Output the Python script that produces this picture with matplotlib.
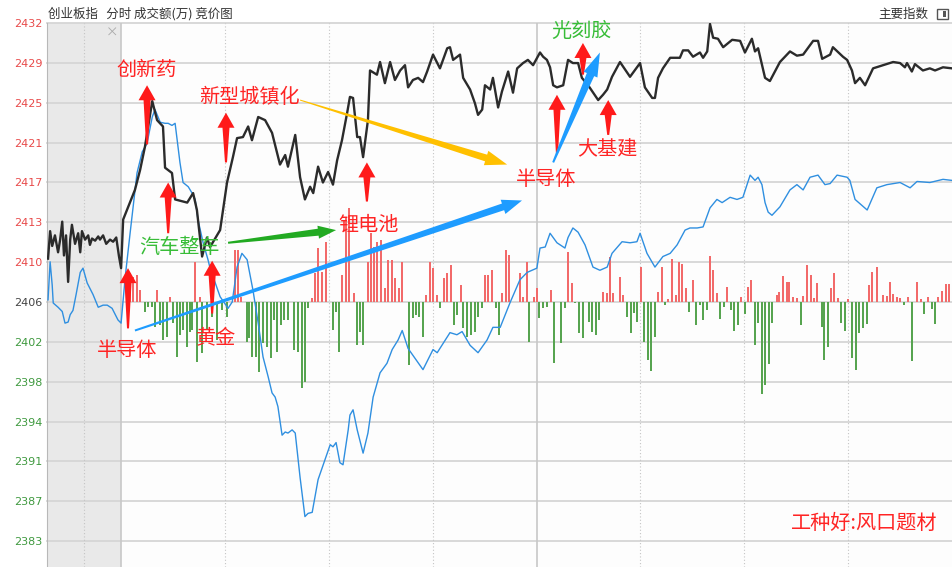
import numpy as np
import matplotlib
matplotlib.use("Agg")
import matplotlib.pyplot as plt
from matplotlib.patches import Polygon, Rectangle
from matplotlib.transforms import IdentityTransform

plt.rcParams["font.family"] = ["Noto Sans CJK SC", "DejaVu Sans"]

# price axis: gridlines every STEP points around the previous close
BASE = 2405.9
STEP = 3.77
tick_steps = list(range(-6, 8))
tick_labels = ["2383", "2387", "2391", "2394", "2398", "2402", "2406",
               "2410", "2413", "2417", "2421", "2425", "2429", "2432"]

# minutes from 9:30 (negative = call auction)
index_t = [-21.1, -20.5, -19.9, -19.1, -18.2, -17.6, -17.0, -16.5, -15.9, -15.3,
           -14.7, -14.2, -13.3, -12.4, -11.8, -11.3, -10.4, -9.5, -9.0, -8.4,
           -7.5, -6.6, -6.1, -5.2, -4.3, -3.2, -2.3, -1.4, -0.6, 0.0,
           0.6, 4.0, 5.5, 6.9, 9.0, 10.4, 12.1, 12.7, 14.7, 15.6,
           19.1, 20.8, 21.9, 23.4, 24.8, 25.7, 28.6, 30.6, 32.3, 33.5,
           35.2, 36.7, 37.8, 39.6, 41.6, 43.6, 45.9, 47.4, 48.2, 50.3,
           51.7, 53.1, 54.6, 55.5, 56.9, 58.3, 59.8, 61.2, 62.4, 63.8,
           65.3, 66.1, 67.0, 68.2, 69.0, 69.9, 71.3, 71.9, 73.9, 74.8,
           76.2, 77.7, 79.1, 80.6, 82.0, 82.9, 84.3, 85.8, 87.2, 88.4,
           90.1, 92.1, 94.2, 95.0, 95.9, 97.9, 98.8, 100.8, 102.2, 103.1,
           104.3, 105.1, 106.6, 107.4, 108.9, 110.0, 111.8, 113.2, 114.4, 116.1,
           117.5, 119.0, 121.0, 121.9, 123.0, 123.9, 124.8, 125.9, 127.7, 129.1,
           130.5, 132.0, 133.1, 134.9, 137.8, 139.2, 140.4, 141.8, 144.1, 147.0,
           149.9, 151.3, 153.4, 154.2, 155.1, 156.5, 158.6, 161.4, 162.3, 163.8,
           165.2, 167.2, 168.1, 169.3, 170.1, 171.0, 172.4, 173.9, 176.5, 178.8,
           180.2, 182.2, 183.1, 184.0, 186.0, 187.4, 190.3, 193.2, 195.2, 197.0,
           199.9, 201.3, 202.5, 204.8, 205.6, 208.5, 209.7, 211.1, 212.0, 213.4,
           214.9, 217.2, 220.1, 223.0, 225.0, 226.4, 227.0, 228.4, 229.3, 231.6,
           233.6, 235.1, 237.4, 240.0]
index_p = [2410.0, 2412.6, 2411.2, 2412.2, 2410.6, 2411.8, 2413.5, 2410.3, 2412.2, 2407.8,
           2411.8, 2413.2, 2411.4, 2412.4, 2410.6, 2412.6, 2411.8, 2412.2, 2411.3, 2411.9,
           2411.7, 2412.1, 2411.8, 2412.2, 2411.4, 2411.8, 2411.6, 2412.0, 2410.2, 2409.1,
           2413.7, 2416.5, 2418.4, 2420.6, 2424.9, 2423.1, 2422.5, 2418.6, 2418.1, 2415.6,
           2415.3, 2416.2, 2414.6, 2410.2, 2412.0, 2411.1, 2412.7, 2417.2, 2419.6, 2421.4,
           2421.5, 2422.5, 2421.2, 2423.4, 2423.1, 2421.9, 2418.9, 2419.8, 2418.7, 2421.7,
           2417.7, 2415.6, 2416.8, 2416.2, 2418.7, 2417.2, 2418.2, 2417.0, 2419.3, 2421.2,
           2423.8, 2425.3, 2425.2, 2421.5, 2421.5, 2419.6, 2423.1, 2427.8, 2427.4, 2428.6,
           2426.6, 2428.6, 2426.9, 2427.8, 2428.3, 2426.2, 2426.9, 2427.1, 2426.7, 2427.7,
           2429.3, 2428.0, 2429.9, 2430.0, 2428.8, 2429.3, 2427.1, 2426.0, 2424.7, 2423.6,
           2424.1, 2426.4, 2426.0, 2427.1, 2424.3, 2425.8, 2427.7, 2425.7, 2428.0, 2428.5,
           2428.8, 2428.3, 2429.5, 2429.1, 2428.8, 2428.1, 2426.4, 2426.2, 2426.4, 2428.8,
           2428.5, 2428.5, 2427.1, 2426.4, 2425.0, 2425.5, 2426.0, 2427.2, 2428.6, 2427.2,
           2428.5, 2426.2, 2425.2, 2425.2, 2427.1, 2428.0, 2429.0, 2429.0, 2429.7, 2429.7,
           2429.1, 2429.5, 2429.0, 2429.6, 2432.2, 2430.9, 2430.8, 2430.0, 2430.7, 2430.6,
           2429.5, 2430.8, 2429.6, 2429.9, 2427.1, 2426.8, 2428.6, 2429.6, 2429.2, 2429.3,
           2430.6, 2430.6, 2428.9, 2429.3, 2430.0, 2429.1, 2428.8, 2427.8, 2426.6, 2427.1,
           2426.4, 2428.0, 2428.3, 2428.6, 2428.5, 2428.1, 2428.5, 2427.7, 2428.4, 2427.8,
           2428.0, 2427.8, 2428.1, 2428.0]

avg_t = [-21.1, -20.5, -19.9, -19.6, -18.2, -17.0, -16.2, -15.3, -14.7, -13.9,
         -13.0, -11.8, -11.0, -9.8, -8.1, -6.6, -5.2, -4.0, -2.6, -0.9, 0.0,
         1.2, 2.6, 4.6, 6.1, 7.5, 9.0, 9.8, 11.3, 12.7, 13.6,
         14.7, 15.6, 17.0, 17.9, 19.4, 20.5, 21.4, 22.2, 23.7, 25.1,
         25.7, 28.6, 30.9, 32.1, 33.5, 34.9, 36.4, 38.1, 39.6, 41.0,
         42.5, 43.6, 44.5, 45.3, 46.5, 47.4, 48.2, 49.4, 50.3, 51.7,
         53.1, 54.0, 55.2, 56.9, 58.9, 60.4, 61.2, 62.1, 63.2, 64.1,
         65.6, 66.1, 67.0, 68.2, 69.9, 71.3, 72.8, 74.8, 76.8, 78.3,
         80.0, 81.2, 82.9, 87.2, 90.1, 91.3, 95.0, 97.0, 98.5, 100.8,
         103.1, 105.7, 107.4, 109.5, 112.3, 115.2, 117.3, 120.1, 121.0, 122.5,
         123.9, 125.9, 128.2, 129.1, 130.5, 132.0, 134.0, 136.3, 138.3, 140.4,
         141.8, 144.7, 147.0, 149.0, 149.9, 151.9, 154.2, 156.5, 158.6, 160.6,
         162.9, 164.3, 166.4, 168.1, 170.1, 172.1, 173.6, 175.9, 177.9, 179.6,
         181.7, 183.1, 184.0, 185.1, 186.0, 186.9, 188.0, 190.3, 193.2, 195.2,
         197.0, 199.0, 201.3, 203.3, 204.8, 206.8, 209.7, 210.5, 212.0, 215.5,
         218.3, 221.2, 225.0, 227.9, 229.9, 233.6, 237.4, 240.0]
avg_p = [2406.1, 2409.7, 2407.5, 2405.8, 2405.4, 2405.0, 2403.9, 2404.0, 2404.7, 2405.1,
         2406.6, 2408.7, 2409.1, 2407.7, 2406.6, 2405.4, 2405.6, 2405.6, 2405.3, 2404.2, 2403.9,
         2408.3, 2412.4, 2418.1, 2420.1, 2420.9, 2423.4, 2424.1, 2422.9, 2422.8, 2422.8,
         2422.6, 2422.8, 2419.1, 2417.2, 2416.8, 2416.2, 2415.6, 2413.7, 2411.5, 2409.9,
         2409.1, 2406.4, 2405.3, 2405.9, 2409.2, 2410.5, 2409.9, 2407.0, 2403.9, 2400.7,
         2398.8, 2397.3, 2396.9, 2396.0, 2393.3, 2393.6, 2393.5, 2393.8, 2393.5, 2389.3,
         2385.6, 2385.9, 2386.0, 2389.1, 2391.0, 2392.4, 2392.2, 2392.6, 2390.7, 2390.5,
         2393.8, 2395.2, 2395.7, 2393.8, 2391.6, 2393.5, 2396.9, 2399.2, 2400.1, 2401.4,
         2402.3, 2403.2, 2401.5, 2399.5, 2401.4, 2401.1, 2403.0, 2402.8, 2403.1, 2401.8,
         2401.1, 2402.3, 2403.5, 2403.5, 2405.8, 2408.0, 2408.7, 2409.1, 2411.0, 2411.1,
         2412.4, 2411.5, 2411.0, 2412.0, 2412.9, 2412.5, 2411.3, 2409.2, 2408.9, 2409.2,
         2410.5, 2411.6, 2411.5, 2411.6, 2412.4, 2410.5, 2409.2, 2410.2, 2410.5, 2411.3,
         2412.7, 2412.9, 2412.9, 2413.0, 2414.8, 2415.6, 2415.3, 2415.8, 2415.6, 2415.8,
         2417.9, 2417.4, 2417.7, 2417.0, 2415.3, 2414.4, 2414.1, 2414.9, 2416.5, 2417.0,
         2416.5, 2417.7, 2417.9, 2417.0, 2417.1, 2417.9, 2417.7, 2417.4, 2415.6, 2414.6,
         2416.7, 2417.0, 2417.2, 2416.7, 2417.3, 2417.2, 2417.5, 2417.4]

# turnover per minute (万), positive = up tick, negative = down tick
vol_t = [2.6, 3.5, 4.6, 5.5, 10.4, 14.2, 21.4, 22.8, 32.9, 33.8, 34.7,
         55.2, 56.0, 56.9, 58.1, 59.2, 63.8, 65.0, 65.8, 67.3, 71.3, 72.2, 73.1,
         73.9, 75.1, 76.2, 77.1, 78.3, 79.1, 80.3, 81.2, 88.1, 89.2, 90.1, 91.3,
         93.3, 94.2, 95.3, 98.2, 105.1, 106.0, 107.1, 110.0, 111.2, 112.1, 115.2,
         116.1, 117.3, 119.3, 120.0, 124.2, 129.1, 130.3, 139.2, 140.4, 141.2,
         142.1, 144.1, 145.0, 150.2, 155.1, 156.2, 158.0, 159.1, 160.3, 161.2,
         162.0, 163.2, 165.2, 170.1, 171.0, 172.1, 175.0, 179.1, 181.1, 182.0,
         189.5, 190.0, 191.2, 192.3, 192.9, 194.1, 195.2, 197.0, 198.1, 199.3,
         200.1, 201.0, 205.1, 205.9, 207.1, 210.0, 216.0, 216.9, 218.3, 220.1,
         221.2, 222.1, 222.9, 224.1, 225.0, 227.3, 229.9, 231.0, 233.1, 236.0,
         237.1, 238.3, 239.1,
         6.9, 7.8, 9.0, 9.8, 11.3, 12.1, 13.3, 15.0, 16.2, 17.0, 17.9, 19.1,
         19.9, 20.5, 21.9, 23.4, 24.8, 26.3, 27.7, 29.2, 30.6, 36.4, 37.0, 37.8,
         39.0, 39.9, 41.0, 42.2, 43.3, 44.2, 45.1, 46.2, 47.1, 48.2, 50.0, 51.1,
         52.3, 53.1, 54.0, 61.2, 62.1, 62.9, 68.2, 69.0, 69.9, 83.2, 84.3, 85.2,
         86.1, 87.2, 92.1, 96.2, 97.0, 98.8, 99.9, 101.1, 102.2, 103.1, 104.3,
         108.3, 109.2, 117.8, 120.7, 121.9, 123.0, 125.1, 127.1, 128.2, 131.1,
         132.3, 133.4, 135.2, 136.0, 137.2, 138.1, 146.1, 147.3, 148.2, 149.0,
         151.0, 152.2, 153.1, 154.2, 157.1, 164.0, 166.1, 167.2, 168.1, 169.3,
         173.0, 174.2, 176.2, 177.0, 178.2, 180.2, 183.1, 184.0, 185.1, 186.0,
         187.1, 188.0, 196.4, 202.5, 203.0, 204.2, 207.9, 209.1, 211.1, 212.3,
         213.1, 214.3, 215.5, 226.1, 228.4, 231.9, 234.2, 235.1]
vol_v = [870, 750, 810, 360, 360, 150, 1200, 150, 1560, 1560, 150,
         120, 870, 1620, 900, 1800, 810, 2550, 2820, 270, 1200, 2070, 1650,
         1800, 1860, 420, 1260, 1260, 720, 420, 1200, 210, 1200, 1020, 210,
         720, 870, 1110, 510, 810, 810, 960, 270, 1560, 1410, 870,
         150, 1200, 150, 420, 360, 1500, 570, 300, 270, 1350,
         270, 750, 210, 1050, 300, 1050, 90, 1290, 210, 1200,
         1140, 420, 660, 1380, 960, 270, 450, 150, 450, 660,
         210, 300, 780, 600, 600, 150, 120, 180, 1110, 810,
         120, 570, 420, 870, 120, 90, 510, 900, 1050, 210,
         180, 600, 240, 150, 120, 150, 600, 90, 150, 150,
         330, 540, 540,
         -300, -150, -150, -750, -690, -1140, -1050, -630, -1650, -990, -840, -1350,
         -900, -840, -1800, -1530, -840, -450, -1140, -240, -450, -1200, -1080, -1650,
         -1650, -2100, -1230, -1350, -1680, -540, -1500, -690, -540, -540, -1440, -1500,
         -2580, -2400, -180, -840, -300, -1500, -1290, -900, -1290, -1890, -480, -390,
         -450, -1050, -180, -690, -390, -780, -1050, -990, -900, -450, -180,
         -180, -990, -1200, -480, -180, -150, -1830, -1230, -180, -30,
         -930, -1080, -600, -900, -990, -540, -450, -930, -330, -600,
         -1200, -1740, -2070, -1050, -90, -300, -690, -90, -540, -240,
         -510, -150, -240, -870, -690, -360, -1290, -630, -2760, -2490,
         -1860, -630, -690, -750, -1740, -1350, -630, -870, -1680, -2040,
         -930, -780, -660, -90, -1770, -360, -210, -660]
VOL_PER_POINT = 317.0  # 万 per index point on the shared axis

RED = "#ff2424"
GREEN_TXT = "#38bd38"

fig = plt.figure(figsize=(9.52, 5.67), dpi=100)
fig.patch.set_facecolor("white")
ax = fig.add_axes([47 / 952, 0, 905 / 952, 544 / 567])
ax.set_facecolor("#fdfdfd")
ax.set_xlim(-21.4, 240)
ax.set_ylim(BASE - 6.65 * STEP, BASE + 7 * STEP)
ax.autoscale(False)

ticks = [BASE + k * STEP for k in tick_steps]
for y in ticks:
    ax.axhline(y, color="#d6d6d6", lw=1.3, zorder=1, clip_on=False)
ax.axvspan(-21.4, 0, color="#e9e9e9", zorder=0, lw=0)
for x in [-10.7, 30, 60, 90, 150, 180, 210]:
    ax.axvline(x, color="#c4c4c4", lw=0.8, ls=(0, (1, 2)), zorder=1)
for x in [0, 120]:
    ax.axvline(x, color="#c8c8c8", lw=1.2, zorder=1)

ax.set_yticks(ticks)
ax.set_yticklabels(tick_labels, family="DejaVu Sans", fontsize=8)
for lab, k in zip(ax.get_yticklabels(), tick_steps):
    lab.set_color("#e84a4a" if k > 0 else ("#444444" if k == 0 else "#3f993f"))
ax.tick_params(axis="y", length=0, pad=3)
ax.set_xticks([])
for s in ["top", "right", "bottom"]:
    ax.spines[s].set_visible(False)
ax.spines["left"].set_color("#b8b8b8")

vol_v = np.array(vol_v, dtype=float)
bar_colors = np.where(vol_v > 0, "#f26a6a", "#57a450")
ax.bar(vol_t, vol_v / VOL_PER_POINT, bottom=BASE, width=0.6,
       color=bar_colors, lw=0, zorder=2)

ax.plot(avg_t, avg_p, color="#2f8fe0", lw=1.0, zorder=3)
ax.plot(index_t, index_p, color="#2b2b2b", lw=1.7, zorder=4)


def tapered_arrow(p0, p1, color, w0, w1, head_w, head_len):
    (x0, y0), (x1, y1) = ax.transData.transform([p0, p1])
    dx, dy = x1 - x0, y1 - y0
    length = np.hypot(dx, dy)
    ux, uy = dx / length, dy / length
    nx, ny = -uy, ux
    bx, by = x1 - ux * head_len, y1 - uy * head_len
    pts = [(x0 + nx * w0 / 2, y0 + ny * w0 / 2),
           (bx + nx * w1 / 2, by + ny * w1 / 2),
           (bx + nx * head_w / 2, by + ny * head_w / 2),
           (x1, y1),
           (bx - nx * head_w / 2, by - ny * head_w / 2),
           (bx - nx * w1 / 2, by - ny * w1 / 2),
           (x0 - nx * w0 / 2, y0 - ny * w0 / 2)]
    fig.add_artist(Polygon(pts, closed=True, transform=IdentityTransform(),
                           facecolor=color, edgecolor="none", zorder=5))


# red "up" arrows: (minute, tail price, tip price)
up_arrows = [(7.5, 2420.8, 2426.4), (13.6, 2412.4, 2417.2), (30.3, 2419.1, 2423.8),
             (2.0, 2403.4, 2409.1), (26.3, 2404.8, 2409.8), (71.0, 2415.4, 2419.1),
             (125.9, 2419.9, 2425.5), (133.4, 2427.4, 2430.4), (140.7, 2421.7, 2425.0)]
for m, a, b in up_arrows:
    tapered_arrow((m, a), (m, b), "#ff1a1a", 2, 7, 17, 15)

tapered_arrow((51.7, 2425.0), (111.5, 2418.9), "#ffc000", 1, 7, 15, 22)
tapered_arrow((4.0, 2403.2), (115.8, 2415.5), "#1e9cff", 2, 7, 15, 20)
tapered_arrow((124.8, 2419.1), (138.3, 2429.5), "#1e9cff", 2, 8, 15, 24)
tapered_arrow((30.9, 2411.5), (62.1, 2412.7), "#22aa22", 2, 7, 13, 18)

labels = [("创新药", 7.5, 2427.8, RED), ("新型城镇化", 37.0, 2425.2, RED),
          ("汽车整车", 17.0, 2411.1, GREEN_TXT), ("半导体", 1.7, 2401.3, RED),
          ("黄金", 27.4, 2402.5, RED), ("锂电池", 71.6, 2413.2, RED),
          ("半导体", 122.7, 2417.5, RED), ("大基建", 140.4, 2420.3, RED),
          ("光刻胶", 133.1, 2431.5, GREEN_TXT)]
for s, m, p, c in labels:
    ax.text(m, p, s, ha="center", va="center", fontsize=14.5, color=c, zorder=6)
ax.text(214.6, 2384.9, "工种好:风口题材", ha="center", va="center",
        fontsize=14.5, color=RED, zorder=6)

fig.text(48 / 952, 1 - 14 / 567, "创业板指   分时 成交额(万) 竞价图",
         fontsize=9, color="#333333", va="center")
fig.text(878 / 952, 1 - 14 / 567, "主要指数", fontsize=9, color="#333333", va="center")
fig.text(112 / 952, 1 - 33 / 567, "×", fontsize=9, color="#aaaaaa",
         ha="center", va="center")
fig.add_artist(Rectangle((937 / 952, 1 - 19 / 567), 11 / 952, 10 / 567,
                         transform=fig.transFigure, facecolor="white",
                         edgecolor="#555555", lw=1.0))
fig.add_artist(Rectangle((943 / 952, 1 - 17 / 567), 3 / 952, 6 / 567,
                         transform=fig.transFigure, facecolor="#555555", lw=0))

fig.savefig("out.png", dpi=100)
